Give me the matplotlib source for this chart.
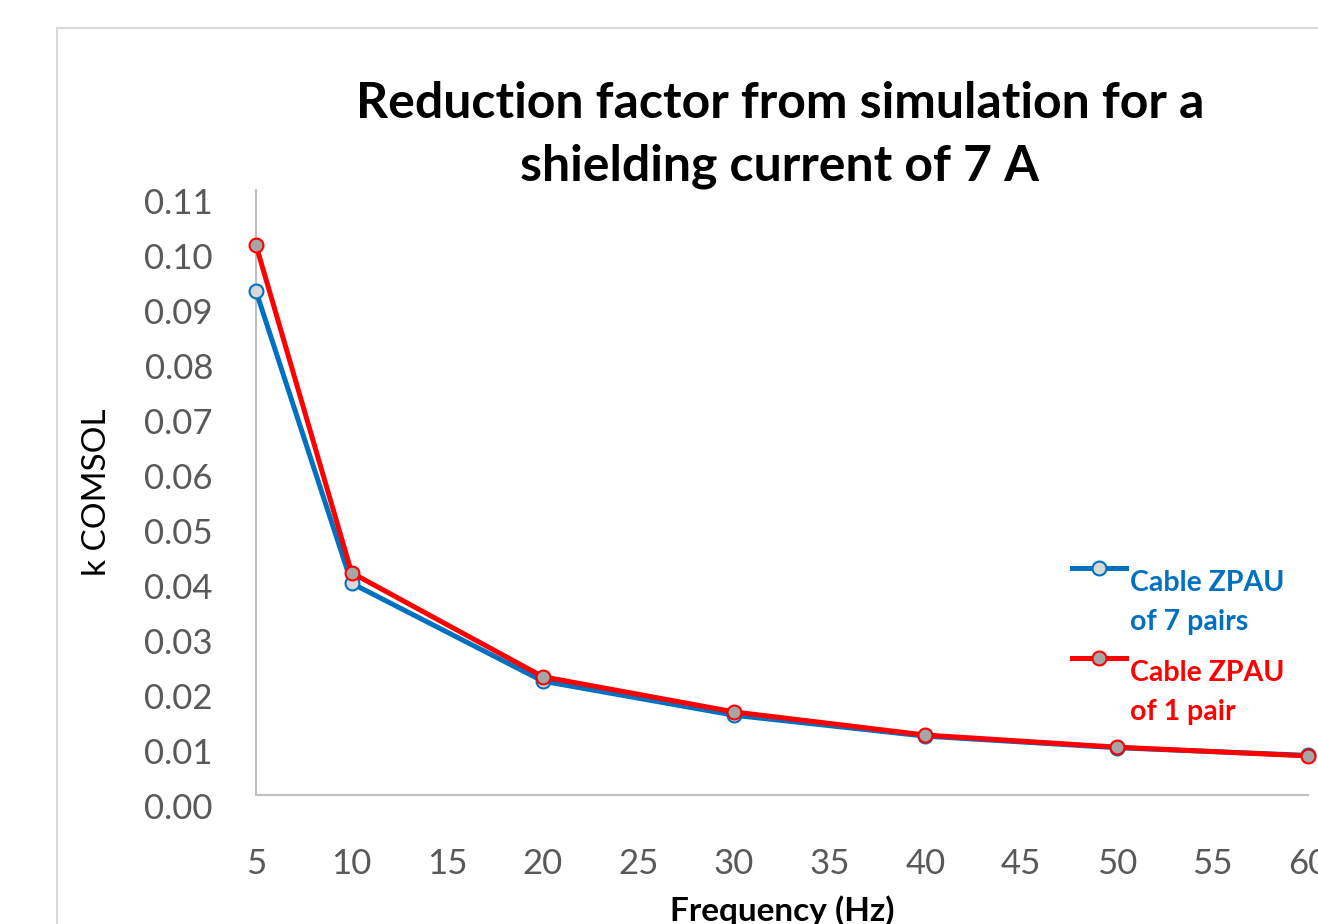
import matplotlib
matplotlib.use("Agg")
import matplotlib.pyplot as plt
from matplotlib.patches import Rectangle
from matplotlib.lines import Line2D
from matplotlib.transforms import ScaledTranslation

freq = [5, 10, 20, 30, 40, 50, 60]
k_7pairs = [0.0916, 0.0385, 0.0207, 0.0145, 0.0107, 0.0086, 0.0072]
k_1pair = [0.1000, 0.0404, 0.0215, 0.0151, 0.0109, 0.0087, 0.0071]
labels = ["Cable ZPAU\nof 7 pairs", "Cable ZPAU\nof 1 pair"]
x_ticks = list(range(5, 61, 5))
y_ticks = [i / 100 for i in range(0, 12)]

plt.rcParams['font.family'] = ['Lato', 'DejaVu Sans']

fig = plt.figure(figsize=(13.18, 9.24), dpi=100)
W, H = 1318, 924
# chart frame (cut by picture edges)
fig.patches.append(Rectangle((57 / W, -0.1), 1.2, 1 - 28 / H + 0.1, transform=fig.transFigure,
                             fill=False, edgecolor='#D9D9D9', linewidth=1.5))

ax = fig.add_axes([256 / W, 1 - 795 / H, (1308 - 256) / W, (795 - 190) / H])
styles = [dict(color='#0070C0', mfc='#D9D9D9', mec='#0070C0'),
          dict(color='#FF0000', mfc='#A6A6A6', mec='#FF0000')]
for i, ys in enumerate([k_7pairs, k_1pair]):
    ax.plot(freq, ys, lw=3.6, marker='o', ms=10, mew=1.5, clip_on=False, zorder=3 + i, **styles[i])

ax.set_xlim(5, 60)
ax.set_ylim(0, 0.11)
ax.set_xticks(x_ticks)
ax.set_yticks(y_ticks)
ax.set_yticklabels([f"{v:.2f}" for v in y_ticks])
for s in ['top', 'right']:
    ax.spines[s].set_visible(False)
for s in ['left', 'bottom']:
    ax.spines[s].set_color('#BFBFBF')
    ax.spines[s].set_linewidth(1.5)
ax.tick_params(axis='both', length=0, labelsize=25, labelcolor='#595959')
ax.tick_params(axis='x', pad=38)
ax.tick_params(axis='y', pad=31)
for lab in ax.get_yticklabels():
    lab.set_transform(lab.get_transform() + ScaledTranslation(0, -0.11, fig.dpi_scale_trans))

ax.set_ylabel("k COMSOL", fontsize=24, labelpad=23)
ax.set_xlabel("Frequency (Hz)", fontsize=24, fontweight='bold', labelpad=11)

fig.text(780 / W, 1 - 135 / H, "Reduction factor from simulation for a\nshielding current of 7 A",
         ha='center', va='center', fontsize=36, fontweight='bold', linespacing=1.45)

# legend drawn by hand: handle aligned with first text line
for i, yl in enumerate([568, 658]):
    fig.add_artist(Line2D([1072 / W, 1126 / W], [1 - yl / H] * 2, transform=fig.transFigure,
                          lw=3.6, **{k: v for k, v in styles[i].items() if k == 'color'}))
    fig.add_artist(Line2D([1099 / W], [1 - yl / H], transform=fig.transFigure,
                          lw=0, marker='o', ms=10, mew=1.5, **styles[i]))
    fig.text(1130 / W, 1 - (yl + 2) / H, labels[i], ha='left', va='top', fontsize=20.5,
             fontweight='bold', color=styles[i]['color'], linespacing=1.62)

fig.savefig("out.png", dpi=100)
